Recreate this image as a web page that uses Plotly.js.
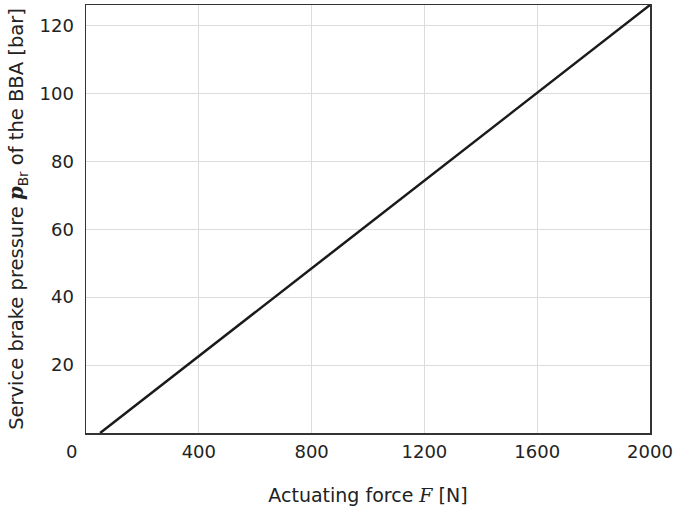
<!DOCTYPE html>
<html>
<head>
<meta charset="utf-8">
<script src="https://cdn.plot.ly/plotly-3.0.1.min.js"></script>
<style>html,body{margin:0;padding:0;background:#fff;}#chart{width:675px;height:510px;}</style>
</head>
<body>
<div id="chart"></div>
<script>
const forceN = [50, 2000];
const pressureBar = [0, 126];
const xTicks = [400, 800, 1200, 1600, 2000];
const yTicks = [20, 40, 60, 80, 100, 120];

const trace = {
  x: forceN, y: pressureBar, mode: 'lines', type: 'scatter',
  line: {color: '#1a1a1a', width: 2.5}, hoverinfo: 'skip', showlegend: false
};

const tickFont = {family: 'DejaVu Sans, sans-serif', size: 18, color: '#222'};
const titleFont = {family: 'DejaVu Sans, sans-serif', size: 19, color: '#222'};
const yTitleFont = {family: 'DejaVu Sans, sans-serif', size: 19.5, color: '#222'};

const layout = {
  width: 675, height: 510,
  margin: {l: 86, r: 25, t: 5, b: 77},
  paper_bgcolor: '#fff', plot_bgcolor: '#fff',
  font: tickFont,
  xaxis: {
    range: [0, 2000], tickvals: xTicks, ticktext: xTicks.map(String),
    showgrid: true, gridcolor: '#dcdcdc', gridwidth: 1,
    showline: true, linecolor: '#333', linewidth: 1.5, mirror: true,
    ticks: '', ticklabelstandoff: 2, zeroline: false,
    tickfont: tickFont,
    title: {text: 'Actuating force <i style="font-family:DejaVu Serif">F</i> [N]', font: titleFont, standoff: 27}
  },
  yaxis: {
    range: [0, 126], tickvals: yTicks, ticktext: yTicks.map(String),
    showgrid: true, gridcolor: '#dcdcdc', gridwidth: 1,
    showline: true, linecolor: '#333', linewidth: 1.5, mirror: true,
    ticks: '', ticklabelstandoff: 7, zeroline: false,
    tickfont: tickFont,
    title: {text: 'Service brake pressure <b><i style="font-family:DejaVu Serif">p</i></b><sub>Br</sub> of the BBA [bar]', font: yTitleFont, standoff: 10}
  },
  annotations: [{
    text: '0', xref: 'paper', yref: 'paper', x: -0.025, y: -0.043,
    xanchor: 'center', yanchor: 'middle', showarrow: false, font: tickFont
  }]
};

Plotly.newPlot('chart', [trace], layout, {staticPlot: true, displayModeBar: false});
</script>
</body>
</html>
